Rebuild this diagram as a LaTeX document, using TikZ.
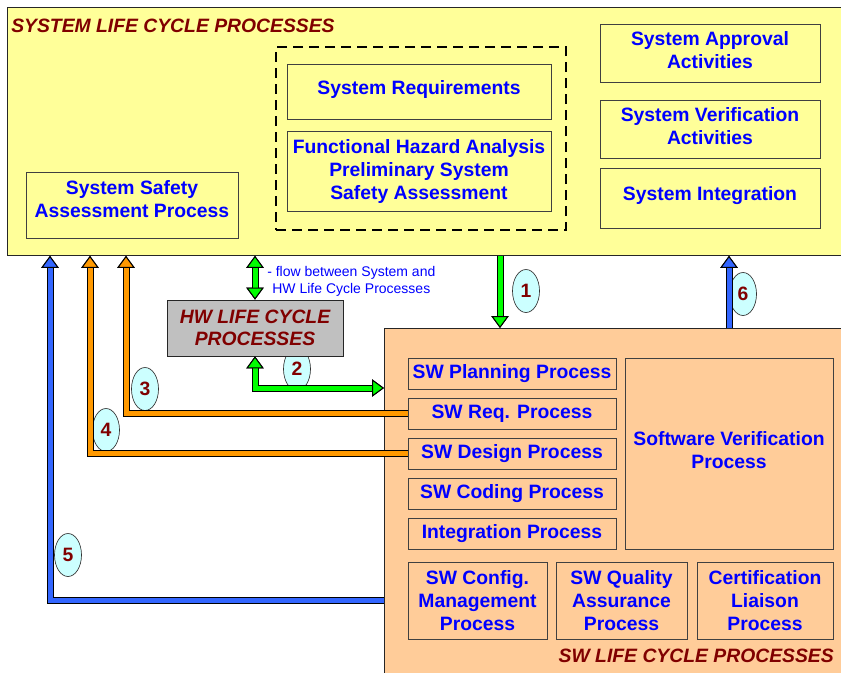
\documentclass[tikz,border=0pt]{standalone}
\usepackage{fontspec}
\setmainfont{Liberation Sans}
\usetikzlibrary{arrows.meta,shapes.geometric}

\definecolor{sysyellow}{RGB}{255,255,153}
\definecolor{swfill}{RGB}{255,204,153}
\definecolor{hwgray}{RGB}{192,192,192}
\definecolor{numcyan}{RGB}{204,255,255}
\definecolor{darkred}{RGB}{128,0,0}
\definecolor{textblue}{RGB}{0,0,255}
\definecolor{flowgreen}{RGB}{0,255,0}
\definecolor{floworange}{RGB}{255,153,0}
\definecolor{flowblue}{RGB}{51,102,255}

\tikzset{
  procbox/.style={draw=black!75, line width=0.6pt, inner sep=1pt, align=center,
    text=textblue, font=\fontsize{14.5}{17.25}\selectfont\bfseries},
  frame/.style={draw=black!85, line width=0.6pt, inner sep=0pt},
  title/.style={inner sep=0pt, text=darkred, font=\fontsize{14.5}{17.25}\selectfont\bfseries\itshape},
  num/.style={ellipse, draw=black!80, line width=0.5pt, fill=numcyan, inner sep=0pt,
    minimum width=20.25pt, minimum height=32.25pt, text=darkred,
    font=\fontsize{14.5}{17.25}\selectfont\bfseries},
  ghead/.tip={Triangle[length=9pt, width=13pt, line width=0.75pt, color=black, fill=flowgreen]},
  ohead/.tip={Triangle[length=9pt, width=13pt, line width=0.75pt, color=black, fill=floworange]},
  bhead/.tip={Triangle[length=9pt, width=13pt, line width=0.75pt, color=black, fill=flowblue]},
  flow/.style 2 args={draw=#1, line width=3.75pt, line join=miter, #2,
    preaction={draw=black, line width=5.25pt, #2}},
}

\begin{document}
\begin{tikzpicture}[x=0.75pt, y=-0.75pt]
  \clip (0,0) rectangle (841,672);

  % system level
  \node[frame, fill=sysyellow, anchor=north west, minimum width=632.25pt, minimum height=186pt] (sys) at (7,7) {};
  \node[title, anchor=base west] (systitle) at (11,32.5) {SYSTEM LIFE CYCLE PROCESSES};
  \node[draw=black, line width=2pt, dash pattern=on 7.5pt off 4.5pt, minimum width=217.5pt, minimum height=137.25pt] (sysgrp) at (421,138.5) {};
  \node[procbox, minimum width=198pt, minimum height=41.25pt, text depth=6pt] (sysreq) at (419,91.5) {System Requirements};
  \node[procbox, minimum width=198pt, minimum height=60pt] (fha) at (419,171) {Functional Hazard Analysis\\Preliminary System\\Safety Assessment};
  \node[procbox, minimum width=159pt, minimum height=49.5pt, text depth=9pt] (ssa) at (132,205) {System Safety\\Assessment Process};
  \node[procbox, minimum width=165pt, minimum height=43.5pt, text depth=4.5pt] (approval) at (710,53) {System Approval\\Activities};
  \node[procbox, minimum width=165pt, minimum height=43.5pt, text depth=4.5pt] (sysver) at (710,129) {System Verification\\Activities};
  \node[procbox, minimum width=165pt, minimum height=45pt, text depth=7.5pt] (sysint) at (710,198) {System Integration};

  % software level
  \node[frame, fill=swfill, anchor=north west, minimum width=349.5pt, minimum height=264pt] (swlc) at (384,328) {};
  \node[procbox, minimum width=156pt, minimum height=23.25pt] (plan) at (512,373.5) {SW Planning Process};
  \node[procbox, minimum width=156pt, minimum height=23.25pt] (req) at (512,413.5) {SW Req. Process};
  \node[procbox, minimum width=156pt, minimum height=23.25pt] (design) at (512,453.5) {SW Design Process};
  \node[procbox, minimum width=156pt, minimum height=23.25pt] (coding) at (512,493.5) {SW Coding Process};
  \node[procbox, minimum width=156pt, minimum height=23.25pt] (integ) at (512,533.5) {Integration Process};
  \node[procbox, minimum width=156pt, minimum height=143.25pt, text depth=6pt] (swver) at (729,453.5) {Software Verification\\Process};
  \node[procbox, minimum width=104.25pt, minimum height=57.75pt] (config) at (477.5,600.5) {SW Config.\\Management\\Process};
  \node[procbox, minimum width=98.25pt, minimum height=57.75pt] (qa) at (621.5,600.5) {SW Quality\\Assurance\\Process};
  \node[procbox, minimum width=102pt, minimum height=57.75pt] (cert) at (765,600.5) {Certification\\Liaison\\Process};
  \node[title, anchor=base east] (swtitle) at (834,662) {SW LIFE CYCLE PROCESSES};

  % numbers
  \node[num] (n1) at (526,291) {1};
  \node[num] (n2) at (297,369) {2};
  \node[num] (n3) at (145,389) {3};
  \node[num] (n4) at (106,430) {4};
  \node[num] (n5) at (68,555) {5};
  \node[num] (n6) at (743,294) {6};

  % hardware level
  \node[frame, fill=hwgray, minimum width=132pt, minimum height=42pt, align=center,
    text=darkred, font=\fontsize{14.5}{16.5}\selectfont\bfseries\itshape] (hw) at (255,328) {HW LIFE CYCLE\\PROCESSES};

  \coordinate (x1) at (500,0);
  \coordinate (x3) at (126,0);
  \coordinate (x4) at (90,0);
  \coordinate (x5) at (50,0);
  \coordinate (y2) at (0,388);

  \draw[flow={flowgreen}{ghead-ghead}] (hw.north |- sys.south) -- (hw.north)
    node[midway, right=4pt, yshift=-2.5pt, align=center, text=textblue, font=\fontsize{10.5}{12.75}\selectfont] (flowtxt) {- flow between System and\\HW Life Cycle Processes};
  \draw[flow={flowgreen}{-ghead}] (x1 |- sys.south) -- (x1 |- swlc.north);
  \draw[flow={flowgreen}{ghead-ghead}] (hw.south) |- (swlc.west |- y2);
  \draw[flow={flowblue}{-bhead}] (swver.north |- swlc.north) -- (swver.north |- sys.south);
  \draw[flow={floworange}{-ohead}] (req.west) -| (x3 |- sys.south);
  \draw[flow={floworange}{-ohead}] (design.west) -| (x4 |- sys.south);
  \draw[flow={flowblue}{-bhead}] (swlc.west |- config.west) -| (x5 |- sys.south);
\end{tikzpicture}
\end{document}
